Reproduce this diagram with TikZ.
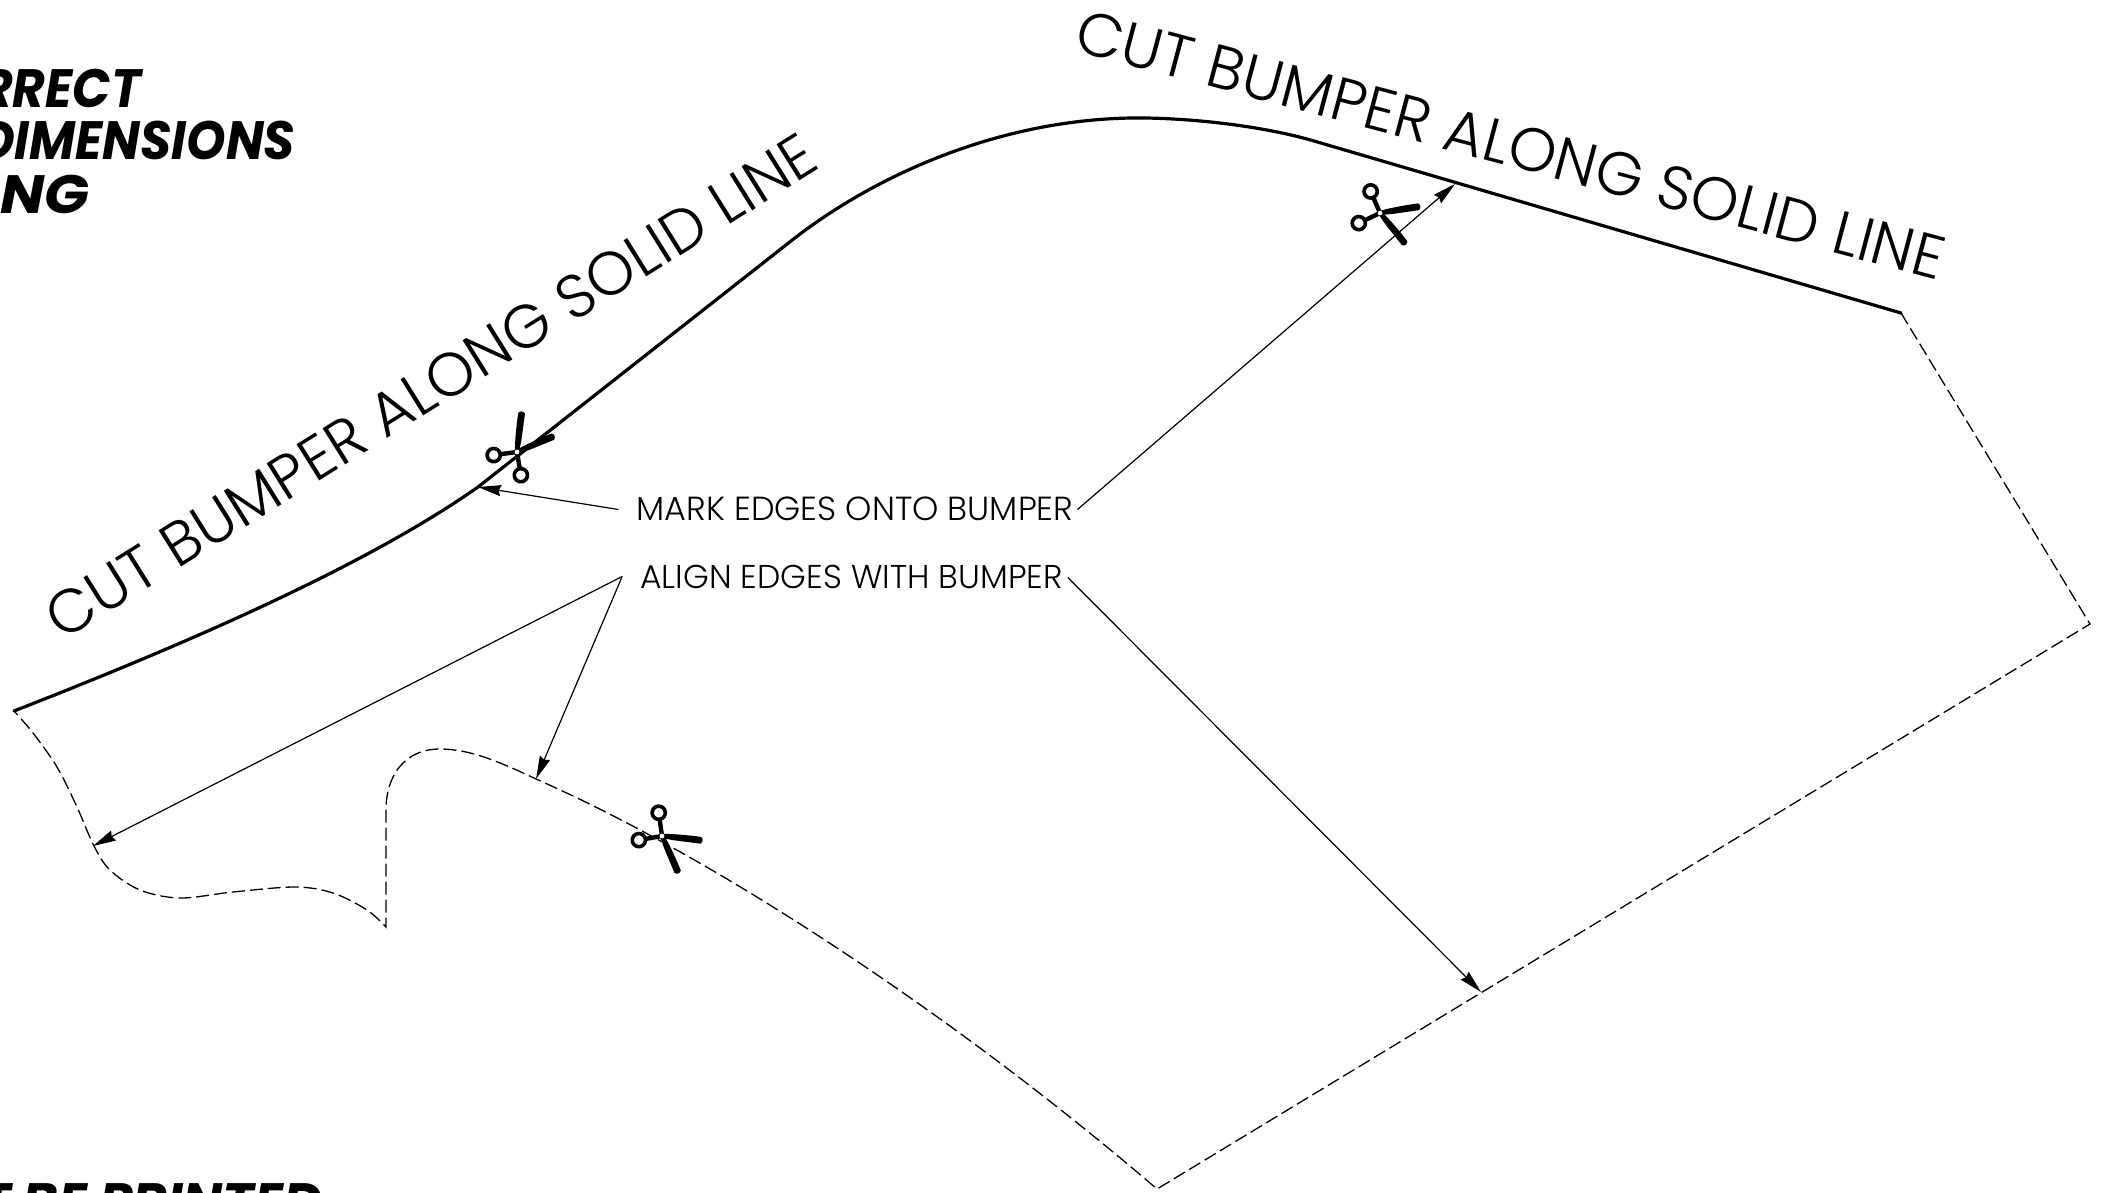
\documentclass[tikz,border=0pt]{standalone}
\usepackage{fontspec}
\setmainfont{Poppins Light}
\newfontfamily\headfont{Poppins}[BoldItalicFeatures={FakeStretch=0.93}]
\usetikzlibrary{arrows.meta}
\tikzset{
  bumper/.style={line width=3.2pt,line cap=round,line join=round},
  guide/.style={line width=1.3pt,dash pattern=on 13pt off 5pt},
  leader/.style={line width=1.2pt,-{Stealth[length=23pt,width=11pt,inset=2pt]}},
  callout/.style={font=\fontsize{33.4}{33.4}\selectfont,inner sep=0pt},
  calloutb/.style={font=\fontsize{33}{33}\selectfont,inner sep=0pt},
  cuttext/.style={font=\fontsize{61}{61}\selectfont,inner sep=0pt,anchor=base west},
  headtext/.style={font=\headfont\bfseries\itshape\fontsize{54}{54}\selectfont,inner sep=0pt,anchor=base west},
  shears/.pic={
    \foreach \s in {1,-1}{
      \begin{scope}[rotate=\s*30]
        \fill (0,-2) .. controls (8,-3.4) and (28,-3.6) .. (39,-3.2) .. controls (41.5,-1.5) and (41.5,1.5) .. (39,3.6) -- (12,3) -- (0,2) -- cycle;
      \end{scope}
      \begin{scope}[rotate=\s*134]
        \fill (0,-2.2) -- (17,-2.2) -- (17,2.2) -- (0,2.2) -- cycle;
        \draw[line width=3.6pt] (23.5,0) circle[radius=6.6];
      \end{scope}
    }
    \fill[white] (0,0) circle[radius=2.4];
  }
}
\begin{document}
\begin{tikzpicture}[x=1pt,y=-1pt]
\useasboundingbox (0,0) rectangle (2102,1192);
\coordinate (cutstart) at (14,711);
\coordinate (cutend) at (1901,313);
\coordinate (corner) at (2090,624);
\coordinate (bottom) at (1157,1189);
\coordinate (foot) at (386,927);
\coordinate (markleft) at (478,487);
\coordinate (markright) at (1455,184);
\coordinate (alignfar) at (93,846);
\coordinate (alignnear) at (536,779);
\coordinate (alignright) at (1481,992);
% bumper cut line
\draw[bumper] (cutstart) .. controls (170,650) and (360,570) .. (markleft) -- (791,241)
  .. controls (880,171) and (1010,116) .. (1146,118) .. controls (1205,119) and (1270,128) .. (1314,141) -- (cutend);
% dashed outline
\draw[guide] (cutend) -- (corner) -- (bottom)
  .. controls (960,1020) and (720,860) .. (alignnear)
  .. controls (500,762) and (470,749) .. (440,749) .. controls (405,749) and (386,775) .. (386,810)
  -- (foot)
  -- plot[smooth,tension=0.55] coordinates {(386,927) (367,910) (333,893) (295,887) (233,892) (180,898) (140,890) (110,870) (94,846) (77,807) (57,767) (33,733) (14,711)};
% texts
\node[callout] (mark) at (855,508.5) {MARK EDGES ONTO BUMPER};
\node[calloutb] (align) at (851.5,576.5) {ALIGN EDGES WITH BUMPER};
\node[cuttext,rotate=32] (cutleft) at (62,642) {CUT BUMPER ALONG SOLID LINE};
\node[cuttext,rotate=-14.9] (cutright) at (1072,50) {CUT BUMPER ALONG SOLID LINE};
\node[headtext] (head1) at (-20,107) {RRECT};
\node[headtext] (head2) at (-22,159.5) {DIMENSIONS};
\node[headtext,xscale=1.17,transform shape] (head3) at (0,213) {NG};
\node[headtext,anchor=base east,xscale=1.06,transform shape] (head4) at (322,1221) {T BE PRINTED};
% leaders
\coordinate (mj) at ([xshift=-18pt,yshift=-1pt]mark.west);
\coordinate (mk) at ([xshift=4pt,yshift=-1pt]mark.east);
\coordinate (aj) at ([xshift=-18pt]align.west);
\coordinate (ak) at ([xshift=5pt,yshift=-1pt]align.east);
\draw[leader] (mj) -- (markleft);
\draw[leader] (mk) -- (markright);
\draw[leader] (aj) -- (alignfar);
\draw[leader] (aj) -- (alignnear);
\draw[leader] (ak) -- (alignright);
% scissors
\pic[rotate=53.5] at (517,452) {shears};
\pic[rotate=-20.5] at (1380,213) {shears};
\pic[rotate=-36] at (662,836) {shears};
\end{tikzpicture}
\end{document}
